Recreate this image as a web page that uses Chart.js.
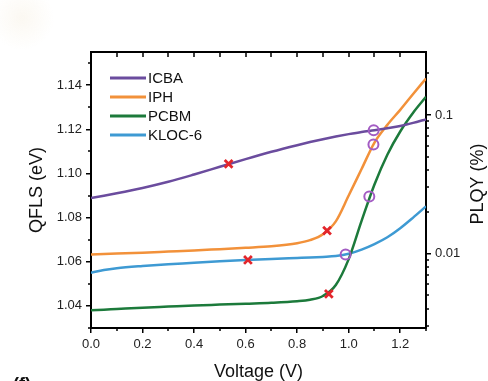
<!DOCTYPE html>
<html><head><meta charset="utf-8">
<script src="https://cdn.jsdelivr.net/npm/chart.js@4.4.0/dist/chart.umd.min.js"></script>
<style>html,body{margin:0;padding:0;background:#fff;overflow:hidden}#wrap{width:488px;height:381px;position:relative}</style>
</head><body><div id="wrap"><canvas id="c" width="488" height="381"></canvas></div>
<script>
// ---- data ----
const voltage = [0, 0.05, 0.1, 0.2, 0.3, 0.4, 0.5, 0.6, 0.7, 0.8, 0.85, 0.9, 0.95, 1.0, 1.05, 1.1, 1.15, 1.2, 1.25, 1.3];
const icba   = [1.0889, 1.0899, 1.0910, 1.0934, 1.0962, 1.0995, 1.1030, 1.1065, 1.1098, 1.1128, 1.1142, 1.1155, 1.1167, 1.1178, 1.1188, 1.1196, 1.1205, 1.1215, 1.1229, 1.1245];
const iph    = [1.0633, 1.0635, 1.0637, 1.0641, 1.0646, 1.0651, 1.0657, 1.0663, 1.0670, 1.0684, 1.0698, 1.0725, 1.0783, 1.0900, 1.1020, 1.1140, 1.1220, 1.1288, 1.1360, 1.1430];
const pcbm   = [1.0380, 1.0383, 1.0386, 1.0392, 1.0397, 1.0402, 1.0406, 1.0410, 1.0414, 1.0421, 1.0428, 1.0445, 1.0495, 1.0612, 1.0785, 1.0950, 1.1085, 1.1190, 1.1275, 1.1347];
const kloc6  = [1.0550, 1.0563, 1.0571, 1.0581, 1.0589, 1.0595, 1.0602, 1.0608, 1.0613, 1.0617, 1.0619, 1.0622, 1.0626, 1.0636, 1.0655, 1.0680, 1.0711, 1.0752, 1.0800, 1.0851];
const seriesNames = ['ICBA', 'IPH', 'PCBM', 'KLOC-6'];
// red crosses and purple circles (ICBA, IPH, PCBM, KLOC-6)
const crossV  = [0.534, 0.916, 0.923, 0.609];
const crossQ  = [1.1043, 1.0741, 1.0455, 1.0608];
const circleV = [1.097, 1.096, 1.080, 0.988];
const circleQ = [1.1196, 1.1131, 1.0896, 1.0633];
// tick labels
const xTicks = [0, 0.2, 0.4, 0.6, 0.8, 1.0, 1.2];
const xMinorTicks = [0.1, 0.3, 0.5, 0.7, 0.9, 1.1, 1.3];
const yTicks = [1.04, 1.06, 1.08, 1.10, 1.12, 1.14];
const yMinorTicks = [1.03, 1.05, 1.07, 1.09, 1.11, 1.13, 1.15];
const plqyTicks = [0.01, 0.1];
const plqyMinorTicks = [0.003, 0.004, 0.005, 0.006, 0.007, 0.008, 0.009, 0.02, 0.03, 0.04, 0.05, 0.06, 0.07, 0.08, 0.09, 0.2];

const colors = ['#6b4c9e', '#f2913a', '#1c7a3b', '#3e9ad3'];
const FONT = '"Liberation Sans", Arial, sans-serif';

const pts = (xs, ys) => xs.map((v, i) => ({x: v, y: ys[i]}));
const seriesData = [icba, iph, pcbm, kloc6];

const datasets = [
  {label: 'crosses', data: pts(crossV, crossQ), showLine: false, pointStyle: 'crossRot', pointRadius: 5.5,
   pointBorderWidth: 2.8, borderColor: '#e3262b', backgroundColor: '#e3262b', pointHoverRadius: 5.5},
  {label: 'circles', data: pts(circleV, circleQ), showLine: false, pointStyle: 'circle', pointRadius: 5,
   pointBorderWidth: 2, borderColor: '#a35cc3', backgroundColor: 'rgba(0,0,0,0)', pointHoverRadius: 5},
];
seriesData.forEach((s, i) => datasets.push({
  label: seriesNames[i], data: pts(voltage, s), borderColor: colors[i], backgroundColor: colors[i],
  borderWidth: 2.5, pointRadius: 0, cubicInterpolationMode: 'monotone', fill: false
}));

const setTicks = arr => (s) => { s.ticks = arr.map(v => ({value: v})); };

const decor = {
  id: 'decor',
  beforeDraw(chart) {
    const ctx = chart.ctx;
    ctx.save();
    const g = ctx.createRadialGradient(22, 18, 2, 22, 18, 32);
    g.addColorStop(0, 'rgba(244,234,214,0.3)');
    g.addColorStop(1, 'rgba(244,234,214,0)');
    ctx.fillStyle = g;
    ctx.fillRect(0, 0, 70, 60);
    ctx.restore();
  },
  afterDraw(chart) {
    const ctx = chart.ctx, a = chart.chartArea;
    const xs = chart.scales.x, ys = chart.scales.y, y2 = chart.scales.y2;
    ctx.save();
    ctx.strokeStyle = '#000';
    ctx.lineWidth = 1.5;
    ctx.beginPath();
    xMinorTicks.forEach(v => { const p = Math.round(xs.getPixelForValue(v)); ctx.moveTo(p, a.bottom); ctx.lineTo(p, a.bottom + 3); });
    xTicks.concat(xMinorTicks).forEach(v => { if (v <= 0 || v >= 1.3) return; const p = Math.round(xs.getPixelForValue(v)); ctx.moveTo(p, a.top); ctx.lineTo(p, a.top + 5); });
    yMinorTicks.forEach(v => { const p = Math.round(ys.getPixelForValue(v)); ctx.moveTo(a.left, p); ctx.lineTo(a.left - 3, p); });
    plqyMinorTicks.forEach(v => { const p = Math.round(y2.getPixelForValue(v)); ctx.moveTo(a.right, p); ctx.lineTo(a.right + 3, p); });
    ctx.stroke();

    // legend
    ctx.font = '15px ' + FONT;
    ctx.textBaseline = 'middle';
    ctx.textAlign = 'left';
    seriesNames.forEach((n, i) => {
      const y = 78 + i * 19;
      ctx.strokeStyle = colors[i];
      ctx.lineWidth = 2.8;
      ctx.beginPath(); ctx.moveTo(110, y); ctx.lineTo(146, y); ctx.stroke();
      ctx.fillStyle = '#111';
      ctx.fillText(n, 148, y + 1);
    });

    // axis titles
    ctx.fillStyle = '#111';
    ctx.font = '18px ' + FONT;
    ctx.textAlign = 'center';
    ctx.textBaseline = 'alphabetic';
    ctx.fillText('Voltage (V)', (a.left + a.right) / 2, 377);
    ctx.textBaseline = 'middle';
    ctx.save(); ctx.translate(37, (a.top + a.bottom) / 2); ctx.rotate(-Math.PI / 2); ctx.fillText('QFLS (eV)', 0, 0); ctx.restore();
    ctx.save(); ctx.translate(478, 184); ctx.rotate(-Math.PI / 2); ctx.fillText('PLQY (%)', 0, 0); ctx.restore();

    // panel letter (mostly cut off)
    ctx.font = 'bold 18px ' + FONT;
    ctx.textAlign = 'left';
    ctx.textBaseline = 'top';
    ctx.fillText('(f)', 13, 376);
    ctx.restore();
  }
};

const tickFont = {family: FONT, size: 13};
new Chart(document.getElementById('c'), {
  type: 'line',
  data: {datasets},
  options: {
    responsive: false, animation: false, devicePixelRatio: 1,
    layout: {padding: 0},
    plugins: {legend: {display: false}, tooltip: {enabled: false}},
    scales: {
      x: {type: 'linear', position: 'bottom', min: 0, max: 1.3,
          afterBuildTicks: setTicks(xTicks),
          afterFit: s => { s.height = 53; },
          ticks: {callback: v => v.toFixed(1), font: tickFont, color: '#222', padding: 4, maxRotation: 0, autoSkip: false},
          grid: {display: true, drawOnChartArea: false, drawTicks: true, tickLength: 5, color: '#000', lineWidth: 1.5},
          border: {display: true, color: '#000', width: 2}},
      x2: {type: 'linear', position: 'top', min: 0, max: 1.3,
          afterFit: s => { s.height = 52; },
          ticks: {display: false},
          grid: {display: false, drawTicks: false},
          border: {display: true, color: '#000', width: 2}},
      y: {type: 'linear', position: 'left', min: 1.03, max: 1.155,
          afterBuildTicks: setTicks(yTicks),
          afterFit: s => { s.width = 91; },
          ticks: {callback: v => v.toFixed(2), font: tickFont, color: '#222', padding: 4, autoSkip: false},
          grid: {display: true, drawOnChartArea: false, drawTicks: true, tickLength: 5, color: '#000', lineWidth: 1.5},
          border: {display: true, color: '#000', width: 2}},
      y2: {type: 'logarithmic', position: 'right', min: 0.0029, max: 0.285,
          afterBuildTicks: setTicks(plqyTicks),
          afterFit: s => { s.width = 62; },
          ticks: {callback: v => String(v), font: tickFont, color: '#222', padding: 4, autoSkip: false},
          grid: {display: true, drawOnChartArea: false, drawTicks: true, tickLength: 5, color: '#000', lineWidth: 1.5},
          border: {display: true, color: '#000', width: 2}}
    }
  },
  plugins: [decor]
});
</script>
</body></html>
